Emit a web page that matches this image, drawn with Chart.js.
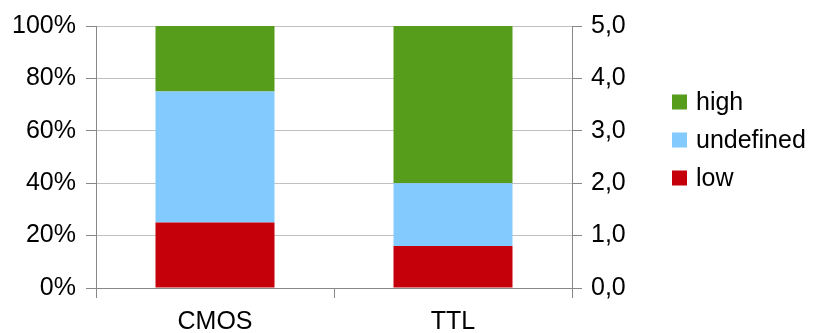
<!DOCTYPE html>
<html>
<head>
<meta charset="utf-8">
<script src="https://cdn.jsdelivr.net/npm/chart.js@4/dist/chart.umd.min.js"></script>
<style>
  html, body { margin: 0; padding: 0; background: #ffffff; }
  #wrap { width: 815px; height: 333px; position: relative; }
</style>
</head>
<body>
<div id="wrap"><canvas id="c" width="815" height="333"></canvas></div>
<script>
// Logic families and the share of the supply range taken by each input level (%)
const families = ['CMOS', 'TTL'];
const lowShare = [25, 16];
const undefinedShare = [50, 24];
const highShare = [25, 60];

// Axis tick labels
const percentTicks = [0, 20, 40, 60, 80, 100];
const voltTicks = [0, 1, 2, 3, 4, 5];

const FONT = { family: '"Liberation Sans", Arial, sans-serif', size: 25 };
const AXIS_GREY = '#888888';
const GRID_GREY = '#c0c0c0';

// Legend drawn to the right of the secondary axis, top series first
const sideLegend = {
  id: 'sideLegend',
  afterDraw(chart) {
    const ctx = chart.ctx;
    const sets = chart.data.datasets.slice().reverse();
    const x0 = 672, yTop = 102, step = 38, box = 15;
    ctx.save();
    ctx.font = FONT.size + 'px ' + FONT.family;
    ctx.textBaseline = 'middle';
    ctx.textAlign = 'left';
    sets.forEach((ds, i) => {
      const cy = yTop + i * step;
      ctx.fillStyle = ds.backgroundColor;
      ctx.fillRect(x0, cy - box / 2, box, box);
      ctx.fillStyle = '#000000';
      ctx.fillText(ds.label, x0 + 24, cy + 1);
    });
    ctx.restore();
  }
};

new Chart(document.getElementById('c'), {
  type: 'bar',
  data: {
    labels: families,
    datasets: [
      { label: 'low', data: lowShare, backgroundColor: '#c5000b' },
      { label: 'undefined', data: undefinedShare, backgroundColor: '#83caff' },
      { label: 'high', data: highShare, backgroundColor: '#579d1c' }
    ]
  },
  options: {
    responsive: false,
    animation: false,
    events: [],
    layout: { padding: { top: 26, left: 0, right: 0, bottom: 0 } },
    datasets: { bar: { categoryPercentage: 1.0, barPercentage: 0.5, borderWidth: 0 } },
    plugins: { legend: { display: false }, tooltip: { enabled: false } },
    scales: {
      x: {
        stacked: true,
        offset: true,
        grid: { offset: true, drawOnChartArea: false, tickLength: 10, tickColor: AXIS_GREY, tickWidth: 1 },
        border: { color: AXIS_GREY, width: 1 },
        ticks: { color: '#000000', font: FONT, padding: 9, maxRotation: 0 },
        afterFit(scale) { scale.height = 45; }
      },
      y: {
        stacked: true,
        position: 'left',
        min: 0,
        max: 100,
        afterBuildTicks(scale) { scale.ticks = percentTicks.map(v => ({ value: v })); },
        grid: { color: GRID_GREY, tickColor: AXIS_GREY, tickLength: 10, lineWidth: 1 },
        border: { color: AXIS_GREY, width: 1 },
        ticks: { color: '#000000', font: FONT, padding: 10, callback: v => v + '%' },
        afterFit(scale) { scale.width = 96; }
      },
      y2: {
        position: 'right',
        min: 0,
        max: 5,
        afterBuildTicks(scale) { scale.ticks = voltTicks.map(v => ({ value: v })); },
        grid: { drawOnChartArea: false, tickColor: AXIS_GREY, tickLength: 10 },
        border: { color: AXIS_GREY, width: 1 },
        ticks: { color: '#000000', font: FONT, padding: 9, callback: v => v.toFixed(1).replace('.', ',') },
        afterFit(scale) { scale.width = 243; }
      }
    }
  },
  plugins: [sideLegend]
});
</script>
</body>
</html>
